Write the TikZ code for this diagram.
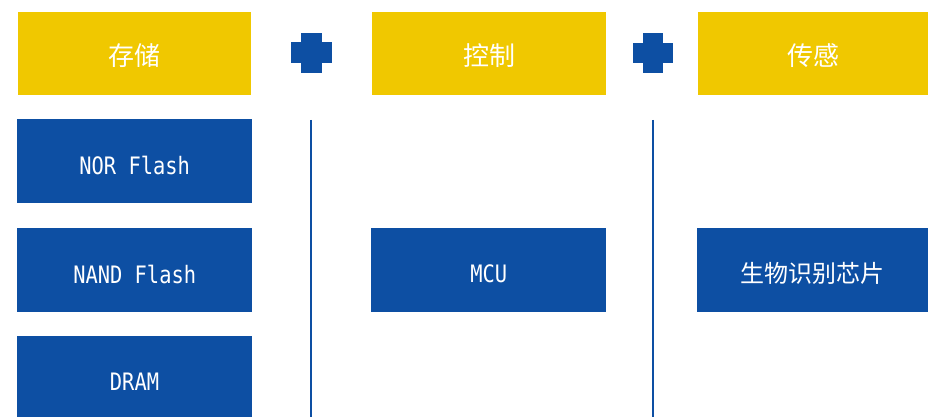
\documentclass[tikz,border=0pt]{standalone}
\usepackage{fontspec}
\newfontfamily\monoc[FakeStretch=0.85]{DejaVu Sans Mono}
\newfontfamily\cjk{Noto Sans CJK SC}
\definecolor{hdryellow}{HTML}{F0C800}
\definecolor{boxblue}{HTML}{0D4FA3}
\begin{document}
\begin{tikzpicture}[x=1pt,y=-1pt,
  hdr/.style={fill=hdryellow,draw=none,minimum width=#1,minimum height=83pt,inner sep=0pt,anchor=north west},
  item/.style={fill=boxblue,draw=none,minimum width=#1,minimum height=84pt,inner sep=0pt,anchor=north west},
  hdrtext/.style={text=white,inner sep=0pt,font=\cjk\fontsize{26}{26}\selectfont,yshift=-2pt},
  latintext/.style={text=white,inner sep=0pt,font=\monoc\fontsize{24}{24}\selectfont,yshift=-4pt},
  cjktext/.style={text=white,inner sep=0pt,font=\cjk\fontsize{24}{24}\selectfont,yshift=-3pt},
  sep/.style={draw=boxblue,line width=2pt},
  plus/.style={fill=boxblue}]
\useasboundingbox (0,0) rectangle (928,417);
% headers
\node[hdr=233pt] (h1) at (18,12) {};
\node[hdr=234pt] (h2) at (372,12) {};
\node[hdr=230pt] (h3) at (698,12) {};
\node[hdrtext] (h1t) at (h1.center) {存储};
\node[hdrtext] (h2t) at (h2.center) {控制};
\node[hdrtext] (h3t) at (h3.center) {传感};
% items
\node[item=235pt] (nor) at (17,119) {};
\node[item=235pt] (nand) at (17,228) {};
\node[item=235pt,minimum height=90pt] (dram) at (17,336) {};
\node[item=235pt] (mcu) at (371,228) {};
\node[item=231pt] (bio) at (697,228) {};
\node[latintext] (nort) at (nor.center) {NOR Flash};
\node[latintext] (nandt) at (nand.center) {NAND Flash};
\node[latintext] (dramt) at (134.5,378) {DRAM};
\node[latintext] (mcut) at (mcu.center) {MCU};
\node[cjktext] (biot) at (bio.center) {生物识别芯片};
% plus signs
\fill[plus] (301,33) rectangle (322,73);
\fill[plus] (291,42.5) rectangle (332,63);
\fill[plus] (643,33) rectangle (663,73);
\fill[plus] (633,43) rectangle (673,63);
% separators
\coordinate (s1a) at (311,120);
\coordinate (s1b) at (311,417);
\coordinate (s2a) at (653,120);
\coordinate (s2b) at (653,417);
\draw[sep] (s1a) -- (s1b);
\draw[sep] (s2a) -- (s2b);
\end{tikzpicture}
\end{document}
